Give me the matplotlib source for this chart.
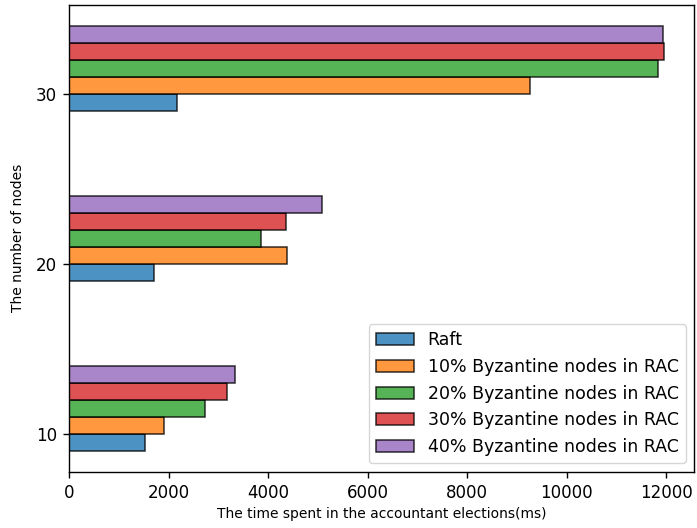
import numpy as np
import matplotlib
matplotlib.use('Agg')
import matplotlib.pyplot as plt

nodes = [10, 20, 30]
labels = ['Raft', '10% Byzantine nodes in RAC', '20% Byzantine nodes in RAC',
          '30% Byzantine nodes in RAC', '40% Byzantine nodes in RAC']
raft = [1527, 1710, 2160]
byz10 = [1900, 4370, 9250]
byz20 = [2730, 3850, 11830]
byz30 = [3170, 4350, 11960]
byz40 = [3330, 5075, 11935]
series = [raft, byz10, byz20, byz30, byz40]
colors = ['tab:blue', 'tab:orange', 'tab:green', 'tab:red', 'tab:purple']

plt.rcParams['axes.linewidth'] = 1.0

fig, ax = plt.subplots(figsize=(6.97, 5.28), dpi=100)
y = np.array(nodes)
for i, (vals, lab, c) in enumerate(zip(series, labels, colors)):
    ax.barh(y - 0.5 + i, vals, height=1, color=c, edgecolor='black',
            linewidth=1.1, alpha=0.8, label=lab)

ax.set_yticks(nodes)
ax.tick_params(axis='both', labelsize=12, length=4.3, width=1, pad=4.5)
ax.set_xlabel('The time spent in the accountant elections(ms)', fontsize=10, labelpad=4)
ax.set_ylabel('The number of nodes', fontsize=10, labelpad=8)
ax.legend(loc='lower right', fontsize=12.5, handlelength=2.2)
plt.subplots_adjust(left=0.099, right=0.996, top=0.9905, bottom=0.1066)
plt.savefig('out.png')
